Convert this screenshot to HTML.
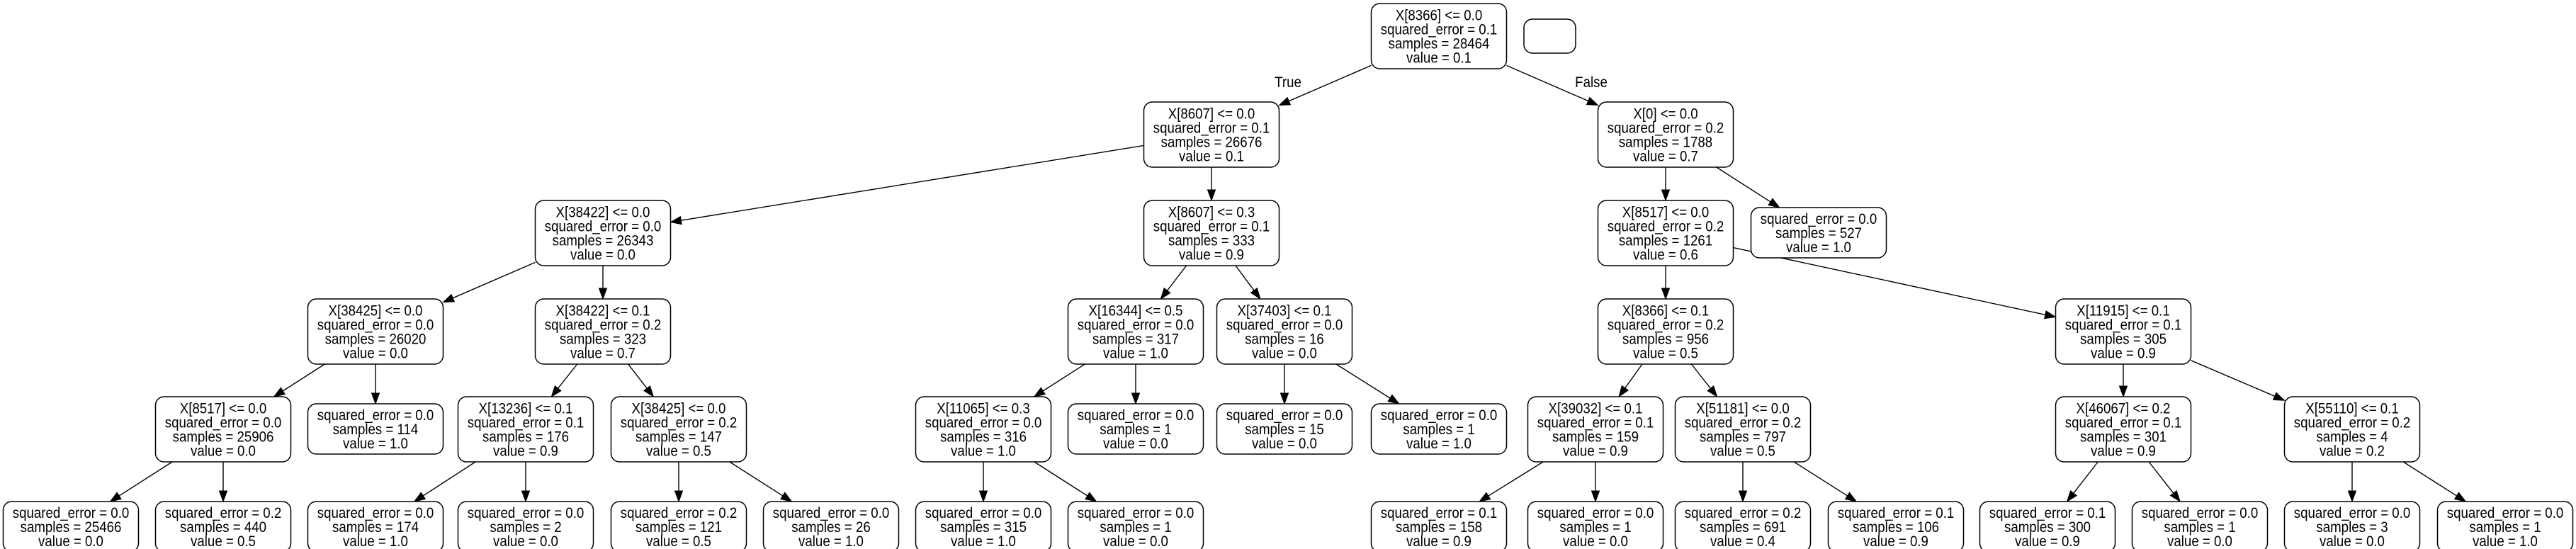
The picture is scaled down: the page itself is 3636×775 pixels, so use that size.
<!DOCTYPE html>
<html><head><meta charset="utf-8"><style>
html,body{margin:0;padding:0;background:#fff;}
svg{display:block;}
text{font-family:"Liberation Sans",Arial,sans-serif;font-size:21px;fill:#000;}
</style></head><body>
<svg id="s" width="3636" height="775" viewBox="0 0 3636 775" xmlns="http://www.w3.org/2000/svg">
<rect x="0" y="0" width="3636" height="775" fill="#fff"/>
<rect x="2151" y="27" width="73" height="48" rx="12" fill="#fff" stroke="#000" stroke-width="1.5"/>
<text transform="translate(1818,123) scale(0.89,1)" text-anchor="middle">True</text>
<text transform="translate(2246,123) scale(0.89,1)" text-anchor="middle">False</text>
</svg>
<script>
var Y=[5,144,283,422,560,698];
var N={
r:[2031,0,["X[8366] <= 0.0","squared_error = 0.1","samples = 28464","value = 0.1"]],
a:[1710,1,["X[8607] <= 0.0","squared_error = 0.1","samples = 26676","value = 0.1"]],
b:[2351,1,["X[0] <= 0.0","squared_error = 0.2","samples = 1788","value = 0.7"]],
a1:[851,2,["X[38422] <= 0.0","squared_error = 0.0","samples = 26343","value = 0.0"]],
a2:[1710,2,["X[8607] <= 0.3","squared_error = 0.1","samples = 333","value = 0.9"]],
b1:[2351,2,["X[8517] <= 0.0","squared_error = 0.2","samples = 1261","value = 0.6"]],
b2:[2567,2,["squared_error = 0.0","samples = 527","value = 1.0"]],
c1:[530,3,["X[38425] <= 0.0","squared_error = 0.0","samples = 26020","value = 0.0"]],
c2:[851,3,["X[38422] <= 0.1","squared_error = 0.2","samples = 323","value = 0.7"]],
c3:[1603,3,["X[16344] <= 0.5","squared_error = 0.0","samples = 317","value = 1.0"]],
c4:[1813,3,["X[37403] <= 0.1","squared_error = 0.0","samples = 16","value = 0.0"]],
c5:[2351,3,["X[8366] <= 0.1","squared_error = 0.2","samples = 956","value = 0.5"]],
c6:[2997,3,["X[11915] <= 0.1","squared_error = 0.1","samples = 305","value = 0.9"]],
d1:[315,4,["X[8517] <= 0.0","squared_error = 0.0","samples = 25906","value = 0.0"]],
d2:[530,4,["squared_error = 0.0","samples = 114","value = 1.0"]],
d3:[742,4,["X[13236] <= 0.1","squared_error = 0.1","samples = 176","value = 0.9"]],
d4:[958,4,["X[38425] <= 0.0","squared_error = 0.2","samples = 147","value = 0.5"]],
d5:[1388,4,["X[11065] <= 0.3","squared_error = 0.0","samples = 316","value = 1.0"]],
d6:[1603,4,["squared_error = 0.0","samples = 1","value = 0.0"]],
d7:[1813,4,["squared_error = 0.0","samples = 15","value = 0.0"]],
d8:[2031,4,["squared_error = 0.0","samples = 1","value = 1.0"]],
d9:[2252,4,["X[39032] <= 0.1","squared_error = 0.1","samples = 159","value = 0.9"]],
d10:[2460,4,["X[51181] <= 0.0","squared_error = 0.2","samples = 797","value = 0.5"]],
d11:[2997,4,["X[46067] <= 0.2","squared_error = 0.1","samples = 301","value = 0.9"]],
d12:[3320,4,["X[55110] <= 0.1","squared_error = 0.2","samples = 4","value = 0.2"]],
e1:[100,5,["squared_error = 0.0","samples = 25466","value = 0.0"]],
e2:[315,5,["squared_error = 0.2","samples = 440","value = 0.5"]],
e3:[530,5,["squared_error = 0.0","samples = 174","value = 1.0"]],
e4:[742,5,["squared_error = 0.0","samples = 2","value = 0.0"]],
e5:[958,5,["squared_error = 0.2","samples = 121","value = 0.5"]],
e6:[1173,5,["squared_error = 0.0","samples = 26","value = 1.0"]],
e7:[1388,5,["squared_error = 0.0","samples = 315","value = 1.0"]],
e8:[1603,5,["squared_error = 0.0","samples = 1","value = 0.0"]],
e9:[2031,5,["squared_error = 0.1","samples = 158","value = 0.9"]],
e10:[2252,5,["squared_error = 0.0","samples = 1","value = 0.0"]],
e11:[2460,5,["squared_error = 0.2","samples = 691","value = 0.4"]],
e12:[2676,5,["squared_error = 0.1","samples = 106","value = 0.9"]],
e13:[2890,5,["squared_error = 0.1","samples = 300","value = 0.9"]],
e14:[3105,5,["squared_error = 0.0","samples = 1","value = 0.0"]],
e15:[3320,5,["squared_error = 0.0","samples = 3","value = 0.0"]],
e16:[3536,5,["squared_error = 0.0","samples = 1","value = 1.0"]]
};
var E=[["r","a"],["r","b"],["a","a1"],["a","a2"],["b","b1"],["b","b2"],
["a1","c1"],["a1","c2"],["a2","c3"],["a2","c4"],["b1","c5"],["b1","c6"],
["c1","d1"],["c1","d2"],["c2","d3"],["c2","d4"],["c3","d5"],["c3","d6"],["c4","d7"],["c4","d8"],
["c5","d9"],["c5","d10"],["c6","d11"],["c6","d12"],
["d1","e1"],["d1","e2"],["d3","e3"],["d3","e4"],["d4","e5"],["d4","e6"],["d5","e7"],["d5","e8"],
["d9","e9"],["d9","e10"],["d10","e11"],["d10","e12"],["d11","e13"],["d11","e14"],["d12","e15"],["d12","e16"]];
var s=document.getElementById("s"),ns="http://www.w3.org/2000/svg",W=191;
function box(k){var n=N[k],h=n[2].length==4?92:71,y=Y[n[1]]+(n[2].length==4?0:10);return {cx:n[0],cy:y+h/2,x:n[0]-W/2,y:y,h:h,l:n[2]};}
function el(t,a){var e=document.createElementNS(ns,t);for(var k in a)e.setAttribute(k,a[k]);s.appendChild(e);return e;}
E.forEach(function(p){var A=box(p[0]),B=box(p[1]);var dx=B.cx-A.cx,dy=B.cy-A.cy;
 function tt(b){var tx=dx?(W/2)/Math.abs(dx):1e9,ty=(b.h/2)/Math.abs(dy);return Math.min(tx,ty);}
 var t0=tt(A),t1=1-tt(B);var x0=A.cx+dx*t0,y0=A.cy+dy*t0,x1=A.cx+dx*t1,y1=A.cy+dy*t1;
 var L=Math.hypot(x1-x0,y1-y0),ux=(x1-x0)/L,uy=(y1-y0)/L,al=15,aw=5.5;
 var bx=x1-ux*al,by=y1-uy*al;
 el("line",{x1:x0,y1:y0,x2:bx,y2:by,stroke:"#000","stroke-width":1.4});
 el("polygon",{points:x1+","+y1+" "+(bx-uy*aw)+","+(by+ux*aw)+" "+(bx+uy*aw)+","+(by-ux*aw),fill:"#000",stroke:"#000","stroke-width":1});
});
for(var k in N){var b=box(k);el("rect",{x:b.x,y:b.y,width:W,height:b.h,rx:12,fill:"#fff",stroke:"#000","stroke-width":1.5});
 var n=b.l.length,y0=b.cy-(n-1)*20/2+7.5;
 b.l.forEach(function(t,i){var e=el("text",{transform:"translate("+b.cx+","+(y0+i*20)+") scale(0.89,1)","text-anchor":"middle"});e.textContent=t;});}
</script>
</body></html>
